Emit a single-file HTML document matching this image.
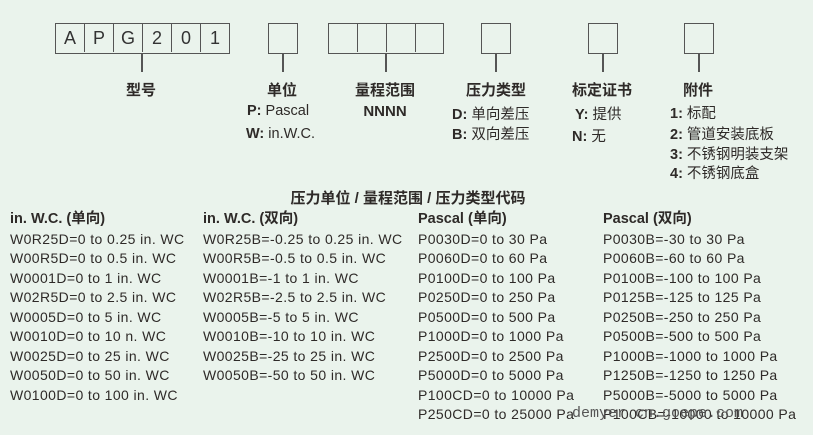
<!DOCTYPE html>
<html><head><meta charset="utf-8"><style>
body{margin:0;width:813px;height:435px;background:#eaf3ec;position:relative;overflow:hidden;font-family:"Liberation Sans","Noto Sans CJK SC",sans-serif;color:#2e2a28}
.a{position:absolute;white-space:nowrap}
.bx{position:absolute;border:1.5px solid #555;box-sizing:border-box;height:31px;top:23px}
.cell{position:absolute;top:0;height:28px;border-right:1.5px solid #555;box-sizing:border-box;text-align:center;font-size:18px;line-height:28px;color:#333}
.ln{position:absolute;width:1.5px;background:#555;top:54px;height:18px}
.t{font-size:15px;font-weight:bold;text-align:center;transform:translateX(-50%)}
.s{font-size:14.5px}
.col{position:absolute;font-size:14px;line-height:19.5px;top:209px;letter-spacing:0.4px}
.col b{font-size:14.5px;letter-spacing:0}
</style></head><body>
<div class="bx" style="left:55px;width:175px">
<div class="cell" style="left:0;width:29px">A</div><div class="cell" style="left:29px;width:29px">P</div><div class="cell" style="left:58px;width:29px">G</div><div class="cell" style="left:87px;width:29px">2</div><div class="cell" style="left:116px;width:29px">0</div><div class="cell" style="left:145px;width:28px;border:none">1</div></div>
<div class="ln" style="left:141px"></div>
<div class="bx" style="left:268px;width:30px"></div><div class="ln" style="left:282px"></div>
<div class="bx" style="left:328px;width:116px">
<div class="cell" style="left:0;width:29px"></div><div class="cell" style="left:29px;width:29px"></div><div class="cell" style="left:58px;width:29px"></div></div>
<div class="ln" style="left:385px"></div>
<div class="bx" style="left:481px;width:30px"></div><div class="ln" style="left:495px"></div>
<div class="bx" style="left:588px;width:30px"></div><div class="ln" style="left:602px"></div>
<div class="bx" style="left:684px;width:30px"></div><div class="ln" style="left:698px"></div>

<div class="a t" style="left:141px;top:79px">型号</div>
<div class="a t" style="left:282px;top:79px">单位</div>
<div class="a s" style="left:247px;top:103px"><b>P:</b> Pascal</div>
<div class="a s" style="left:246px;top:126px"><b>W:</b> in.W.C.</div>
<div class="a t" style="left:385px;top:79px">量程范围</div>
<div class="a t" style="left:385px;top:103px">NNNN</div>
<div class="a t" style="left:496px;top:79px">压力类型</div>
<div class="a s" style="left:452px;top:103px"><b>D:</b> 单向差压</div>
<div class="a s" style="left:452px;top:123px"><b>B:</b> 双向差压</div>
<div class="a t" style="left:602px;top:79px">标定证书</div>
<div class="a s" style="left:575px;top:103px"><b>Y:</b> 提供</div>
<div class="a s" style="left:572px;top:125px"><b>N:</b> 无</div>
<div class="a t" style="left:698px;top:79px">附件</div>
<div class="a s" style="left:670px;top:102px"><b>1:</b> 标配</div>
<div class="a s" style="left:670px;top:123px"><b>2:</b> 管道安装底板</div>
<div class="a s" style="left:670px;top:143px"><b>3:</b> 不锈钢明装支架</div>
<div class="a s" style="left:670px;top:162px"><b>4:</b> 不锈钢底盒</div>

<div class="a t" style="left:408px;top:187px">压力单位 / 量程范围 / 压力类型代码</div>

<div class="col" style="left:10px"><b>in. W.C. (单向)</b><br>W0R25D=0 to 0.25 in. WC<br>W00R5D=0 to 0.5 in. WC<br>W0001D=0 to 1 in. WC<br>W02R5D=0 to 2.5 in. WC<br>W0005D=0 to 5 in. WC<br>W0010D=0 to 10 n. WC<br>W0025D=0 to 25 in. WC<br>W0050D=0 to 50 in. WC<br>W0100D=0 to 100 in. WC</div>
<div class="col" style="left:203px"><b>in. W.C. (双向)</b><br>W0R25B=-0.25 to 0.25 in. WC<br>W00R5B=-0.5 to 0.5 in. WC<br>W0001B=-1 to 1 in. WC<br>W02R5B=-2.5 to 2.5 in. WC<br>W0005B=-5 to 5 in. WC<br>W0010B=-10 to 10 in. WC<br>W0025B=-25 to 25 in. WC<br>W0050B=-50 to 50 in. WC</div>
<div class="col" style="left:418px"><b>Pascal (单向)</b><br>P0030D=0 to 30 Pa<br>P0060D=0 to 60 Pa<br>P0100D=0 to 100 Pa<br>P0250D=0 to 250 Pa<br>P0500D=0 to 500 Pa<br>P1000D=0 to 1000 Pa<br>P2500D=0 to 2500 Pa<br>P5000D=0 to 5000 Pa<br>P100CD=0 to 10000 Pa<br>P250CD=0 to 25000 Pa</div>
<div class="col" style="left:603px"><b>Pascal (双向)</b><br>P0030B=-30 to 30 Pa<br>P0060B=-60 to 60 Pa<br>P0100B=-100 to 100 Pa<br>P0125B=-125 to 125 Pa<br>P0250B=-250 to 250 Pa<br>P0500B=-500 to 500 Pa<br>P1000B=-1000 to 1000 Pa<br>P1250B=-1250 to 1250 Pa<br>P5000B=-5000 to 5000 Pa<br>P100CB=-10000 to 10000 Pa</div>
<div class="a" style="left:572px;top:405px;font-family:'Liberation Mono',monospace;font-size:15px;color:#555">demyer.cn.goepe.com</div>
</body></html>
